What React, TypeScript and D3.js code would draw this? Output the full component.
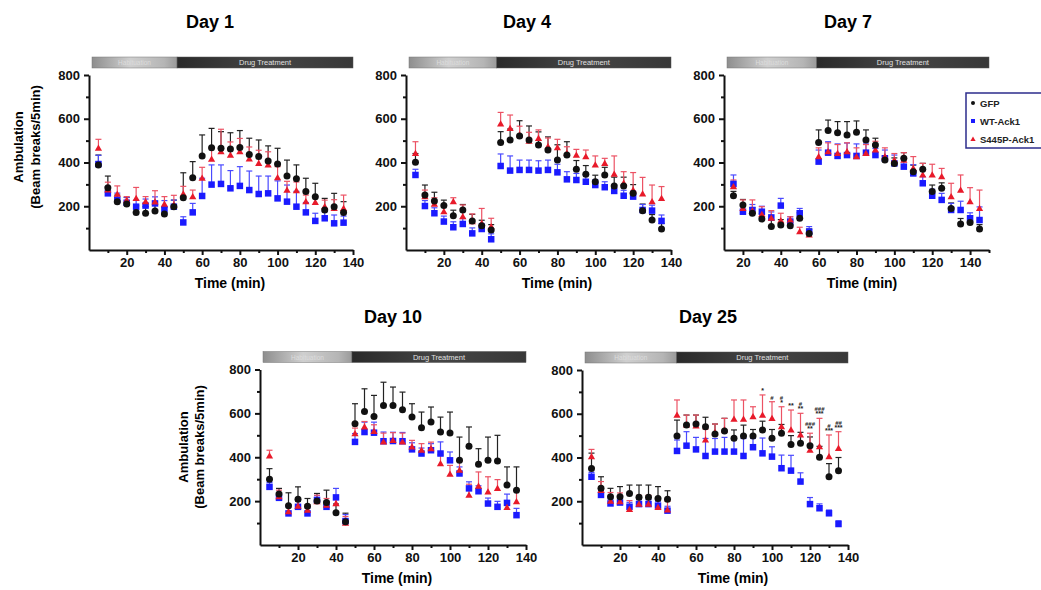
import React, { useEffect, useRef } from "react";
import * as d3 from "d3";

// time points (min)
const times = [5, 10, 15, 20, 25, 30, 35, 40, 45, 50, 55, 60, 65, 70, 75, 80, 85, 90, 95, 100, 105, 110, 115, 120, 125, 130, 135];
const times7 = [15, 20, 25, 30, 35, 40, 45, 50, 55, 60, 65, 70, 75, 80, 85, 90, 95, 100, 105, 110, 115, 120, 125, 130, 135, 140, 145];

const seriesNames = ["GFP", "WT-Ack1", "S445P-Ack1"];

// Day 1
const gfp1 = [389, 285, 221, 210, 172, 168, 178, 165, 198, 239, 330, 430, 468, 465, 462, 469, 437, 427, 407, 393, 338, 326, 267, 244, 183, 198, 172];
const gfp1Err = [45, 53, 30, 30, 30, 30, 30, 30, 30, 114, 74, 96, 88, 76, 74, 77, 74, 76, 69, 72, 73, 63, 61, 61, 53, 61, 49];
const wt1 = [393, 259, 230, 216, 198, 203, 213, 186, 198, 126, 172, 247, 299, 302, 282, 293, 274, 256, 259, 236, 221, 198, 172, 133, 145, 122, 125];
const wt1Err = [40, 30, 30, 25, 30, 30, 30, 40, 30, 26, 41, 81, 90, 87, 81, 88, 87, 82, 79, 80, 76, 70, 45, 35, 30, 38, 30];
const mut1 = [465, 275, 255, 228, 236, 221, 220, 210, 206, 256, 244, 328, 415, 450, 434, 450, 416, 396, 389, 331, 274, 271, 221, 218, 198, 190, 190];
const mut1Err = [41, 35, 38, 16, 50, 23, 51, 34, 44, 35, 30, 50, 50, 102, 60, 60, 55, 60, 60, 50, 40, 40, 30, 26, 30, 40, 61];

// Day 4
const gfp4 = [401, 251, 224, 203, 157, 183, 133, 111, 91, 491, 503, 521, 503, 480, 457, 411, 434, 369, 346, 312, 343, 293, 293, 259, 180, 137, 96];
const gfp4Err = [40, 46, 40, 25, 25, 25, 30, 25, 25, 50, 50, 70, 64, 60, 60, 70, 61, 40, 40, 30, 35, 40, 40, 40, 30, 25, 25];
const wt4 = [343, 201, 168, 130, 104, 119, 76, 96, 49, 384, 363, 366, 366, 363, 366, 355, 323, 320, 312, 297, 287, 270, 248, 244, 183, 180, 133];
const wt4Err = [26, 25, 25, 25, 25, 25, 25, 25, 25, 55, 67, 45, 45, 45, 45, 37, 35, 30, 30, 25, 25, 25, 25, 25, 25, 25, 27];
const mut4 = [442, 244, 209, 175, 221, 152, 130, 122, 107, 576, 556, 526, 498, 510, 472, 468, 442, 434, 427, 389, 396, 347, 305, 274, 256, 221, 236];
const mut4Err = [53, 30, 30, 25, 18, 54, 35, 68, 38, 53, 61, 40, 40, 39, 40, 38, 30, 26, 30, 41, 23, 83, 53, 80, 76, 76, 54];

// Day 7
const gfp7 = [248, 206, 168, 142, 107, 114, 111, 145, 76, 492, 546, 536, 526, 538, 503, 480, 411, 396, 419, 358, 369, 267, 282, 190, 119, 126, 96];
const gfp7Err = [20, 25, 25, 25, 30, 25, 25, 25, 20, 57, 48, 51, 61, 52, 46, 31, 20, 25, 26, 30, 27, 30, 25, 25, 25, 30, 20];
const wt7 = [302, 175, 183, 175, 149, 203, 130, 168, 84, 404, 445, 430, 434, 430, 445, 434, 419, 396, 381, 350, 305, 248, 229, 183, 183, 145, 137];
const wt7Err = [41, 30, 25, 25, 25, 33, 22, 22, 23, 53, 50, 55, 55, 55, 40, 30, 38, 38, 40, 40, 30, 30, 30, 30, 40, 25, 60];
const mut7 = [290, 190, 180, 163, 145, 134, 137, 84, 69, 427, 450, 442, 450, 427, 442, 457, 427, 411, 411, 373, 343, 343, 335, 244, 274, 221, 190];
const mut7Err = [30, 39, 49, 35, 35, 34, 15, 20, 15, 40, 40, 40, 40, 40, 40, 40, 40, 30, 34, 54, 53, 49, 38, 61, 69, 64, 84];

// Day 10
const gfp10 = [300, 232, 179, 209, 177, 201, 194, 147, 106, 553, 609, 586, 636, 636, 617, 583, 535, 561, 515, 511, 386, 450, 368, 386, 383, 273, 250];
const gfp10Err = [48, 26, 59, 56, 35, 34, 56, 40, 39, 91, 103, 96, 106, 84, 80, 61, 71, 68, 68, 95, 106, 88, 71, 106, 117, 83, 106];
const wt10 = [265, 215, 144, 174, 144, 205, 174, 217, 109, 470, 515, 512, 473, 474, 473, 436, 417, 432, 417, 386, 326, 258, 245, 189, 174, 192, 136];
const wt10Err = [20, 20, 30, 25, 25, 20, 25, 41, 30, 38, 45, 48, 42, 40, 40, 30, 25, 30, 53, 38, 30, 30, 25, 25, 25, 40, 31];
const mut10 = [406, 220, 152, 177, 159, 197, 182, 189, 100, 508, 538, 518, 470, 477, 470, 447, 432, 439, 371, 323, 341, 227, 268, 242, 258, 171, 197];
const mut10Err = [26, 30, 30, 30, 25, 30, 30, 30, 30, 25, 25, 30, 40, 35, 40, 30, 30, 30, 40, 40, 40, 50, 65, 69, 40, 30, 50];

// Day 25
const gfp25 = [350, 259, 221, 221, 236, 218, 218, 213, 209, 498, 549, 553, 541, 507, 521, 488, 498, 498, 526, 488, 511, 460, 465, 454, 401, 312, 340];
const gfp25Err = [70, 53, 38, 46, 38, 56, 56, 54, 39, 73, 45, 41, 43, 46, 58, 38, 50, 30, 40, 40, 40, 40, 50, 40, 50, 60, 60];
const wt25 = [312, 229, 190, 194, 175, 187, 187, 180, 157, 430, 454, 437, 407, 427, 427, 427, 407, 447, 419, 404, 351, 340, 290, 187, 168, 145, 96];
const wt25Err = [20, 20, 20, 20, 20, 20, 20, 20, 20, 50, 64, 55, 80, 60, 65, 60, 80, 40, 70, 45, 60, 70, 40, 30, 20, 15, 15];
const mut25 = [404, 250, 200, 198, 163, 187, 187, 172, 160, 594, 549, 544, 480, 514, 526, 575, 575, 587, 594, 579, 541, 526, 503, 434, 450, 404, 442];
const mut25Err = [33, 40, 40, 40, 40, 40, 40, 40, 40, 69, 45, 50, 50, 39, 53, 88, 88, 45, 92, 76, 91, 91, 99, 77, 129, 99, 76];

// significance marks, Day 25
const sigTimes25 = [95, 100, 105, 110, 115, 120, 125, 130, 135];
const sigHash25 = ["", "#", "#", "", "#", "###", "###", "#", "##"];
const sigStar25 = ["*", "", "*", "**", "**", "**", "***", "***", "***"];

const yTicks = [200, 400, 600, 800];
const yMinor = [100, 300, 500, 700];
const xTicks = [20, 40, 60, 80, 100, 120, 140];
const xMinor = [10, 30, 50, 70, 90, 110, 130, 150];

const colors = ["#111111", "#1a1aff", "#e81a2a"];
const errColors = ["#222222", "#4a4aff", "#ec5264"];
const markerSize = [7, 6.5, 5.5];
const font = "Arial, 'Liberation Sans', sans-serif";

const panels = [
    { title: "Day 1", t: times, s: [[gfp1, gfp1Err], [wt1, wt1Err], [mut1, mut1Err]], dom: [0, 140], xr: [89, 353], yr: [250, 75], split: 46.7, titleX: 210, timeX: 230, yTitle: [23, 40, 147] },
    { title: "Day 4", t: times, s: [[gfp4, gfp4Err], [wt4, wt4Err], [mut4, mut4Err]], dom: [0, 140], xr: [406, 671], yr: [250, 75], split: 47.9, titleX: 527, timeX: 557 },
    { title: "Day 7", t: times7, s: [[gfp7, gfp7Err], [wt7, wt7Err], [mut7, mut7Err]], dom: [10, 150], xr: [724, 989], yr: [250, 75], split: 59, titleX: 848, timeX: 862, legend: true },
    { title: "Day 10", t: times, s: [[gfp10, gfp10Err], [wt10, wt10Err], [mut10, mut10Err]], dom: [0, 140], xr: [260, 526], yr: [545, 369.5], split: 48.4, titleX: 393, timeX: 397, yTitle: [188, 204, 447] },
    { title: "Day 25", t: times, s: [[gfp25, gfp25Err], [wt25, wt25Err], [mut25, mut25Err]], dom: [0, 140], xr: [582, 848], yr: [545, 370], split: 49.8, titleX: 708, timeX: 733, sig: true },
];

const drawMarker = (g, k, cx, cy, size) => {
    if (k === 0) {
        g.append("circle").attr("cx", cx).attr("cy", cy).attr("r", size / 2).attr("fill", colors[0]);
    } else if (k === 1) {
        g.append("rect").attr("x", cx - size / 2).attr("y", cy - size / 2).attr("width", size).attr("height", size).attr("fill", colors[1]);
    } else {
        g.append("path").attr("d", d3.symbol(d3.symbolTriangle, size * size * 0.75)()).attr("transform", `translate(${cx},${cy + 0.5})`).attr("fill", colors[2]);
    }
};

const App = () => {
    const ref = useRef(null);
    useEffect(() => {
        document.body.style.margin = "0";
        const svg = d3.select(ref.current);
        svg.selectAll("*").remove();

        const defs = svg.append("defs");
        const lg = defs.append("linearGradient").attr("id", "lightGrad");
        lg.append("stop").attr("offset", "0%").attr("stop-color", "#8e8e8e");
        lg.append("stop").attr("offset", "45%").attr("stop-color", "#cfcfcf");
        lg.append("stop").attr("offset", "85%").attr("stop-color", "#b5b5b5");
        lg.append("stop").attr("offset", "100%").attr("stop-color", "#9a9a9a");
        const dg = defs.append("linearGradient").attr("id", "darkGrad");
        dg.append("stop").attr("offset", "0%").attr("stop-color", "#2a2a2a");
        dg.append("stop").attr("offset", "50%").attr("stop-color", "#454545");
        dg.append("stop").attr("offset", "100%").attr("stop-color", "#383838");

        panels.forEach((p) => {
            const x = d3.scaleLinear().domain(p.dom).range(p.xr);
            const y = d3.scaleLinear().domain([0, 800]).range(p.yr);
            const g = svg.append("g");

            g.append("text")
                .text(p.title)
                .attr("x", p.titleX)
                .attr("y", p.yr[1] - 47)
                .attr("text-anchor", "middle")
                .style("font-family", font)
                .style("font-weight", "bold")
                .style("font-size", "18px");

            // treatment bar
            const barY = p.yr[1] - 18;
            const x0 = x(p.dom[0]) + 3;
            const xs = x(p.split);
            const x1 = p.xr[1];
            g.append("rect").attr("x", x0).attr("y", barY).attr("width", xs - x0).attr("height", 11)
                .attr("fill", "url(#lightGrad)").attr("stroke", "#777").attr("stroke-width", 0.5);
            g.append("rect").attr("x", xs).attr("y", barY).attr("width", x1 - xs).attr("height", 11)
                .attr("fill", "url(#darkGrad)").attr("stroke", "#555").attr("stroke-width", 0.5);
            g.append("text").text("Habituation").attr("x", (x0 + xs) / 2).attr("y", barY + 8)
                .attr("text-anchor", "middle").style("font-family", font).style("font-size", "6.5px").attr("fill", "#dcdcdc");
            g.append("text").text("Drug Treatment").attr("x", (xs + x1) / 2).attr("y", barY + 8)
                .attr("text-anchor", "middle").style("font-family", font).style("font-size", "7.5px").attr("fill", "#e0e0e0");

            // axes
            const yAxis = g.append("g").attr("transform", `translate(${p.xr[0]},0)`)
                .call(d3.axisLeft(y).tickValues(yTicks).tickSize(5).tickSizeOuter(0).tickPadding(4));
            g.append("g").attr("transform", `translate(${p.xr[0]},0)`)
                .call(d3.axisLeft(y).tickValues(yMinor).tickSize(3).tickFormat(() => ""))
                .call((a) => a.select(".domain").remove());
            const xAxis = g.append("g").attr("transform", `translate(0,${p.yr[0]})`)
                .call(d3.axisBottom(x).tickValues(xTicks).tickSize(5).tickSizeOuter(0).tickPadding(3));
            g.append("g").attr("transform", `translate(0,${p.yr[0]})`)
                .call(d3.axisBottom(x).tickValues(xMinor.filter((v) => v > p.dom[0] && v <= p.dom[1])).tickSize(3).tickFormat(() => ""))
                .call((a) => a.select(".domain").remove());
            g.selectAll(".domain, .tick line").attr("stroke", "#111").attr("stroke-width", 2);
            [yAxis, xAxis].forEach((a) => a.selectAll("text")
                .style("font-family", font).style("font-weight", "bold").style("font-size", "13px").attr("fill", "#111"));

            g.append("text")
                .text("Time (min)")
                .attr("x", p.timeX)
                .attr("y", p.yr[0] + 38)
                .attr("text-anchor", "middle")
                .style("font-family", font)
                .style("font-weight", "bold")
                .style("font-size", "14px");

            if (p.yTitle) {
                ["Ambulation", "(Beam breaks/5min)"].forEach((txt, i) => {
                    g.append("text")
                        .text(txt)
                        .attr("transform", `translate(${p.yTitle[i]},${p.yTitle[2]}) rotate(-90)`)
                        .attr("text-anchor", "middle")
                        .style("font-family", font)
                        .style("font-weight", "bold")
                        .style("font-size", "13px");
                });
            }

            // error bars
            p.s.forEach(([vals, errs], k) => {
                vals.forEach((v, i) => {
                    const cx = x(p.t[i]);
                    const top = y(v + errs[i]);
                    g.append("line").attr("x1", cx).attr("x2", cx).attr("y1", y(v)).attr("y2", top)
                        .attr("stroke", errColors[k]).attr("stroke-width", 1.2);
                    g.append("line").attr("x1", cx - 3).attr("x2", cx + 3).attr("y1", top).attr("y2", top)
                        .attr("stroke", errColors[k]).attr("stroke-width", 1.2);
                });
            });
            // markers: WT, S445P, then GFP on top
            [1, 2, 0].forEach((k) => {
                const vals = p.s[k][0];
                vals.forEach((v, i) => drawMarker(g, k, x(p.t[i]), y(v), markerSize[k]));
            });

            if (p.sig) {
                sigTimes25.forEach((tm, j) => {
                    const i = p.t.indexOf(tm);
                    const top = d3.max(p.s, ([vals, errs]) => vals[i] + errs[i]);
                    const yy = y(top) - 2;
                    if (sigStar25[j]) {
                        g.append("text").text(sigStar25[j]).attr("x", x(tm)).attr("y", yy)
                            .attr("text-anchor", "middle").style("font-family", font).style("font-weight", "bold")
                            .style("font-size", "7px").attr("fill", "#222");
                    }
                    if (sigHash25[j]) {
                        g.append("text").text(sigHash25[j]).attr("x", x(tm)).attr("y", yy - (sigStar25[j] ? 5 : 0))
                            .attr("text-anchor", "middle").style("font-family", font).style("font-weight", "bold")
                            .style("font-size", "6px").attr("fill", "#222");
                    }
                });
            }

            if (p.legend) {
                const lgd = g.append("g").attr("transform", "translate(966,93)");
                lgd.append("rect").attr("width", 80).attr("height", 55).attr("fill", "white")
                    .attr("stroke", "#2c2c8c").attr("stroke-width", 1.5);
                seriesNames.forEach((name, k) => {
                    drawMarker(lgd, k, 7, 10 + k * 18, 4);
                    lgd.append("text").text(name).attr("x", 14).attr("y", 13.5 + k * 18)
                        .style("font-family", font).style("font-weight", "bold").style("font-size", "9.5px").attr("fill", "#222");
                });
            }
        });
    }, []);

    return (
        <svg ref={ref} width={1041} height={590} style={{ display: "block", background: "white" }}></svg>
    );
};

export default App;
